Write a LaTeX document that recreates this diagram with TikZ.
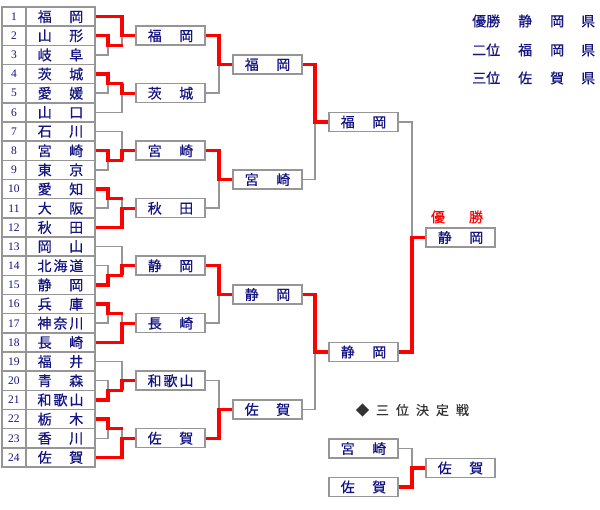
\documentclass[tikz,border=0pt]{standalone}
\usepackage{fontspec}
\setmainfont{Liberation Serif}
\newfontfamily\jp[FakeBold=0.5]{Noto Sans CJK JP}
\usetikzlibrary{calc}
\definecolor{tnavy}{RGB}{20,20,130}
\definecolor{lgray}{RGB}{150,150,150}
\definecolor{tred}{RGB}{255,0,0}
\definecolor{tdark}{RGB}{50,50,50}
\newcommand\tw[2]{#1\hspace{17.5pt}#2}
\newcommand\tri[3]{#1\hspace{2pt}#2\hspace{2pt}#3}
\newcommand\team[2]{%
  \node[namecell] (t#1) at (60.5,{7+19.1667*(#1-0.5)}) {#2};
  \node[numcell] (n#1) at (14,{7+19.1667*(#1-0.5)}) {#1};}
\newcommand\lose[3]{\draw[loseline] (#1) -| (#3 -| #2) -- (#3);}
\newcommand\win[3]{\draw[winline] (#1) -| (#3 -| #2) -- (#3);}
\begin{document}
\begin{tikzpicture}[x=1pt,y=-1pt,
  namecell/.style={draw=lgray,line width=1.5pt,minimum width=69pt,minimum height=19.17pt,inner sep=0pt,
    font=\jp\fontsize{14}{14}\selectfont,text=tnavy},
  numcell/.style={draw=lgray,line width=1.5pt,minimum width=24pt,minimum height=19.17pt,inner sep=0pt,
    font=\fontsize{11.5}{11.5}\selectfont,text=tnavy},
  rbox/.style={draw=lgray,line width=1.5pt,fill=white,minimum width=69pt,minimum height=19pt,inner sep=0pt,
    font=\jp\fontsize{14}{14}\selectfont,text=tnavy},
  legend/.style={font=\jp\fontsize{14}{14}\selectfont,text=tnavy,inner sep=0pt,anchor=west},
  loseline/.style={draw=lgray,line width=1.5pt},
  winline/.style={draw=tred,line width=3.2pt,line join=miter}]
\useasboundingbox (0,0) rectangle (600,510);
\fill[white] (0,0) rectangle (600,510);
% table
\team{1}{\tw{福}{岡}}
\team{2}{\tw{山}{形}}
\team{3}{\tw{岐}{阜}}
\team{4}{\tw{茨}{城}}
\team{5}{\tw{愛}{媛}}
\team{6}{\tw{山}{口}}
\team{7}{\tw{石}{川}}
\team{8}{\tw{宮}{崎}}
\team{9}{\tw{東}{京}}
\team{10}{\tw{愛}{知}}
\team{11}{\tw{大}{阪}}
\team{12}{\tw{秋}{田}}
\team{13}{\tw{岡}{山}}
\team{14}{\tri{北}{海}{道}}
\team{15}{\tw{静}{岡}}
\team{16}{\tw{兵}{庫}}
\team{17}{\tri{神}{奈}{川}}
\team{18}{\tw{長}{崎}}
\team{19}{\tw{福}{井}}
\team{20}{\tw{青}{森}}
\team{21}{\tri{和}{歌}{山}}
\team{22}{\tw{栃}{木}}
\team{23}{\tw{香}{川}}
\team{24}{\tw{佐}{賀}}
% junction columns
\coordinate (xa) at (108,0);
\coordinate (xb) at (122,0);
\coordinate (xc) at (219,0);
\coordinate (xd) at (315,0);
\coordinate (xe) at (412,0);
% round 2 boxes
\node[rbox] (r1) at (170.5,35.75) {\tw{福}{岡}};
\node[rbox] (r2) at (170.5,93.25) {\tw{茨}{城}};
\node[rbox] (r3) at (170.5,150.75) {\tw{宮}{崎}};
\node[rbox] (r4) at (170.5,208.25) {\tw{秋}{田}};
\node[rbox] (r5) at (170.5,265.75) {\tw{静}{岡}};
\node[rbox] (r6) at (170.5,323.25) {\tw{長}{崎}};
\node[rbox] (r7) at (170.5,380.75) {\tri{和}{歌}{山}};
\node[rbox] (r8) at (170.5,438.25) {\tw{佐}{賀}};
% round 3
\node[rbox] (q1) at (267.5,64.5) {\tw{福}{岡}};
\node[rbox] (q2) at (267.5,179.5) {\tw{宮}{崎}};
\node[rbox] (q3) at (267.5,294.5) {\tw{静}{岡}};
\node[rbox] (q4) at (267.5,409.5) {\tw{佐}{賀}};
% semis
\node[rbox] (s1) at (363.5,122) {\tw{福}{岡}};
\node[rbox] (s2) at (363.5,352) {\tw{静}{岡}};
% final
\node[rbox] (f) at (460.5,237.5) {\tw{静}{岡}};
\node[font=\jp\fontsize{14}{14}\selectfont,text=tred,inner sep=0pt] (champ) at (457,217) {優\hspace{24pt}勝};
% third place
\node[font=\jp\fontsize{13}{13}\selectfont,text=tdark,inner sep=0pt] (third) at (412.5,410) {◆\hspace{7pt}三\hspace{7pt}位\hspace{7pt}決\hspace{7pt}定\hspace{7pt}戦};
\node[rbox] (h1) at (363.5,448.5) {\tw{宮}{崎}};
\node[rbox] (h2) at (363.5,487) {\tw{佐}{賀}};
\node[rbox] (h3) at (460.5,468) {\tw{佐}{賀}};
% legend
\node[legend] (lg1) at (472,21) {優勝\hspace{18pt}静\hspace{18pt}岡\hspace{17pt}県};
\node[legend] (lg2) at (472,50) {二位\hspace{18pt}福\hspace{18pt}岡\hspace{17pt}県};
\node[legend] (lg3) at (472,78) {三位\hspace{18pt}佐\hspace{18pt}賀\hspace{17pt}県};
% inner-match outputs
\coordinate (k1) at ($(t2.east)!.5!(t3.east)+(27,0)$);
\coordinate (k2) at ($(t4.east)!.5!(t5.east)+(27,0)$);
\coordinate (k3) at ($(t8.east)!.5!(t9.east)+(27,0)$);
\coordinate (k4) at ($(t10.east)!.5!(t11.east)+(27,0)$);
\coordinate (k5) at ($(t14.east)!.5!(t15.east)+(27,0)$);
\coordinate (k6) at ($(t16.east)!.5!(t17.east)+(27,0)$);
\coordinate (k7) at ($(t20.east)!.5!(t21.east)+(27,0)$);
\coordinate (k8) at ($(t22.east)!.5!(t23.east)+(27,0)$);
% losers (gray)
\lose{t3.east}{xa}{k1}
\lose{t5.east}{xa}{k2}
\lose{t9.east}{xa}{k3}
\lose{t11.east}{xa}{k4}
\lose{t14.east}{xa}{k5}
\lose{t17.east}{xa}{k6}
\lose{t20.east}{xa}{k7}
\lose{t23.east}{xa}{k8}
\lose{k1}{xb}{r1.west}
\lose{t6.east}{xb}{r2.west}
\lose{t7.east}{xb}{r3.west}
\lose{k4}{xb}{r4.west}
\lose{t13.east}{xb}{r5.west}
\lose{k6}{xb}{r6.west}
\lose{t19.east}{xb}{r7.west}
\lose{k8}{xb}{r8.west}
\lose{r2.east}{xc}{q1.west}
\lose{r4.east}{xc}{q2.west}
\lose{r6.east}{xc}{q3.west}
\lose{r7.east}{xc}{q4.west}
\lose{q2.east}{xd}{s1.west}
\lose{q4.east}{xd}{s2.west}
\lose{s1.east}{xe}{f.west}
\lose{h1.east}{xe}{h3.west}
% winners (red)
\win{t2.east}{xa}{k1}
\win{t4.east}{xa}{k2}
\win{t8.east}{xa}{k3}
\win{t10.east}{xa}{k4}
\win{t15.east}{xa}{k5}
\win{t16.east}{xa}{k6}
\win{t21.east}{xa}{k7}
\win{t22.east}{xa}{k8}
\win{t1.east}{xb}{r1.west}
\win{k2}{xb}{r2.west}
\win{k3}{xb}{r3.west}
\win{t12.east}{xb}{r4.west}
\win{k5}{xb}{r5.west}
\win{t18.east}{xb}{r6.west}
\win{k7}{xb}{r7.west}
\win{t24.east}{xb}{r8.west}
\win{r1.east}{xc}{q1.west}
\win{r3.east}{xc}{q2.west}
\win{r5.east}{xc}{q3.west}
\win{r8.east}{xc}{q4.west}
\win{q1.east}{xd}{s1.west}
\win{q3.east}{xd}{s2.west}
\win{s2.east}{xe}{f.west}
\win{h2.east}{xe}{h3.west}
\end{tikzpicture}
\end{document}
